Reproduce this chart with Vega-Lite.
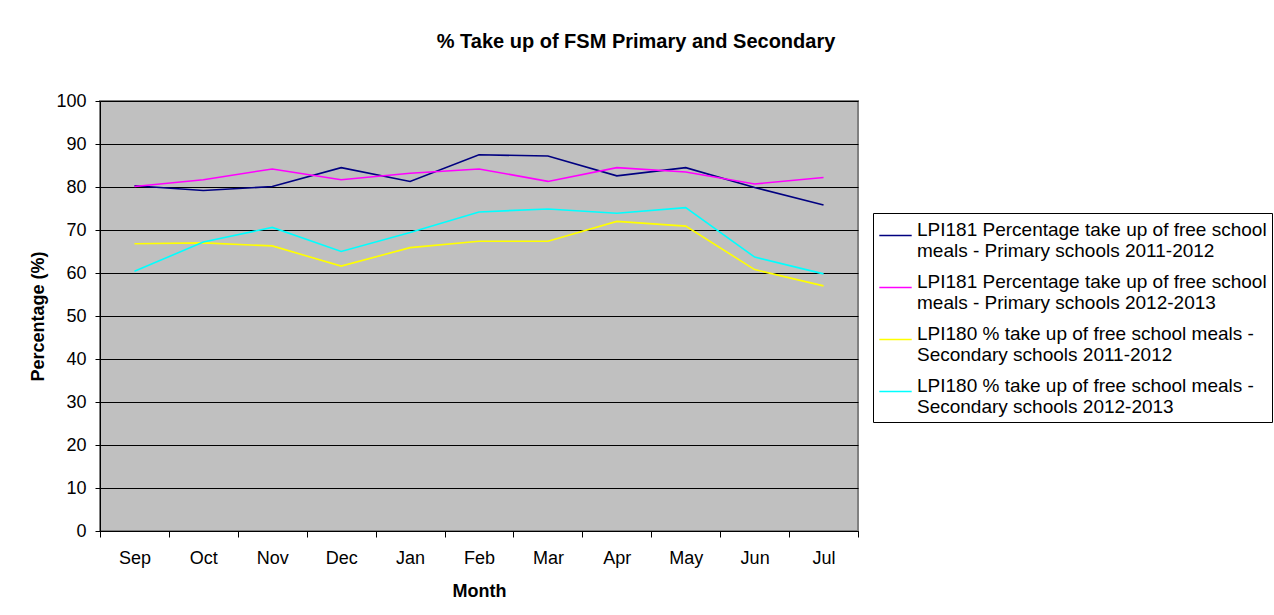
{
  "$schema": "https://vega.github.io/schema/vega-lite/v6.json",
  "autosize": {"type": "none"},
  "padding": {"left": 100, "top": 101, "right": 416, "bottom": 84},
  "width": 758,
  "height": 430,
  "background": "white",
  "title": {
    "text": "% Take up of FSM Primary and Secondary",
    "font": "Liberation Sans",
    "fontSize": 20,
    "fontWeight": "bold",
    "color": "black",
    "anchor": "middle",
    "baseline": "alphabetic",
    "offset": 24,
    "dx": 157
  },
  "config": {
    "font": "Liberation Sans",
    "view": {"fill": "#C0C0C0", "stroke": "#808080", "strokeWidth": 2},
    "axis": {
      "labelFont": "Liberation Sans",
      "titleFont": "Liberation Sans",
      "labelFontSize": 18,
      "titleFontSize": 18,
      "labelColor": "black",
      "titleColor": "black",
      "domainColor": "black",
      "tickColor": "black",
      "titleFontWeight": "bold"
    }
  },
  "data": {
    "values": [
      {"month": "Sep", "series": "LPI181 Percentage take up of free school meals - Primary schools 2011-2012", "value": 80.3},
      {"month": "Oct", "series": "LPI181 Percentage take up of free school meals - Primary schools 2011-2012", "value": 79.2},
      {"month": "Nov", "series": "LPI181 Percentage take up of free school meals - Primary schools 2011-2012", "value": 80.1},
      {"month": "Dec", "series": "LPI181 Percentage take up of free school meals - Primary schools 2011-2012", "value": 84.5},
      {"month": "Jan", "series": "LPI181 Percentage take up of free school meals - Primary schools 2011-2012", "value": 81.3},
      {"month": "Feb", "series": "LPI181 Percentage take up of free school meals - Primary schools 2011-2012", "value": 87.5},
      {"month": "Mar", "series": "LPI181 Percentage take up of free school meals - Primary schools 2011-2012", "value": 87.2},
      {"month": "Apr", "series": "LPI181 Percentage take up of free school meals - Primary schools 2011-2012", "value": 82.6},
      {"month": "May", "series": "LPI181 Percentage take up of free school meals - Primary schools 2011-2012", "value": 84.5},
      {"month": "Jun", "series": "LPI181 Percentage take up of free school meals - Primary schools 2011-2012", "value": 79.9},
      {"month": "Jul", "series": "LPI181 Percentage take up of free school meals - Primary schools 2011-2012", "value": 75.8},
      {"month": "Sep", "series": "LPI181 Percentage take up of free school meals - Primary schools 2012-2013", "value": 80.1},
      {"month": "Oct", "series": "LPI181 Percentage take up of free school meals - Primary schools 2012-2013", "value": 81.7},
      {"month": "Nov", "series": "LPI181 Percentage take up of free school meals - Primary schools 2012-2013", "value": 84.2},
      {"month": "Dec", "series": "LPI181 Percentage take up of free school meals - Primary schools 2012-2013", "value": 81.7},
      {"month": "Jan", "series": "LPI181 Percentage take up of free school meals - Primary schools 2012-2013", "value": 83.2},
      {"month": "Feb", "series": "LPI181 Percentage take up of free school meals - Primary schools 2012-2013", "value": 84.2},
      {"month": "Mar", "series": "LPI181 Percentage take up of free school meals - Primary schools 2012-2013", "value": 81.3},
      {"month": "Apr", "series": "LPI181 Percentage take up of free school meals - Primary schools 2012-2013", "value": 84.5},
      {"month": "May", "series": "LPI181 Percentage take up of free school meals - Primary schools 2012-2013", "value": 83.5},
      {"month": "Jun", "series": "LPI181 Percentage take up of free school meals - Primary schools 2012-2013", "value": 80.7},
      {"month": "Jul", "series": "LPI181 Percentage take up of free school meals - Primary schools 2012-2013", "value": 82.2},
      {"month": "Sep", "series": "LPI180 % take up of free school meals - Secondary schools 2011-2012", "value": 66.8},
      {"month": "Oct", "series": "LPI180 % take up of free school meals - Secondary schools 2011-2012", "value": 67.0},
      {"month": "Nov", "series": "LPI180 % take up of free school meals - Secondary schools 2011-2012", "value": 66.3},
      {"month": "Dec", "series": "LPI180 % take up of free school meals - Secondary schools 2011-2012", "value": 61.6},
      {"month": "Jan", "series": "LPI180 % take up of free school meals - Secondary schools 2011-2012", "value": 65.9},
      {"month": "Feb", "series": "LPI180 % take up of free school meals - Secondary schools 2011-2012", "value": 67.4},
      {"month": "Mar", "series": "LPI180 % take up of free school meals - Secondary schools 2011-2012", "value": 67.4},
      {"month": "Apr", "series": "LPI180 % take up of free school meals - Secondary schools 2011-2012", "value": 72.0},
      {"month": "May", "series": "LPI180 % take up of free school meals - Secondary schools 2011-2012", "value": 70.9},
      {"month": "Jun", "series": "LPI180 % take up of free school meals - Secondary schools 2011-2012", "value": 60.8},
      {"month": "Jul", "series": "LPI180 % take up of free school meals - Secondary schools 2011-2012", "value": 57.0},
      {"month": "Sep", "series": "LPI180 % take up of free school meals - Secondary schools 2012-2013", "value": 60.4},
      {"month": "Oct", "series": "LPI180 % take up of free school meals - Secondary schools 2012-2013", "value": 67.2},
      {"month": "Nov", "series": "LPI180 % take up of free school meals - Secondary schools 2012-2013", "value": 70.6},
      {"month": "Dec", "series": "LPI180 % take up of free school meals - Secondary schools 2012-2013", "value": 65.0},
      {"month": "Jan", "series": "LPI180 % take up of free school meals - Secondary schools 2012-2013", "value": 69.4},
      {"month": "Feb", "series": "LPI180 % take up of free school meals - Secondary schools 2012-2013", "value": 74.2},
      {"month": "Mar", "series": "LPI180 % take up of free school meals - Secondary schools 2012-2013", "value": 74.9},
      {"month": "Apr", "series": "LPI180 % take up of free school meals - Secondary schools 2012-2013", "value": 73.9},
      {"month": "May", "series": "LPI180 % take up of free school meals - Secondary schools 2012-2013", "value": 75.2},
      {"month": "Jun", "series": "LPI180 % take up of free school meals - Secondary schools 2012-2013", "value": 63.7},
      {"month": "Jul", "series": "LPI180 % take up of free school meals - Secondary schools 2012-2013", "value": 59.8}
    ]
  },
  "mark": {"type": "line", "strokeWidth": 1.6},
  "encoding": {
    "x": {
      "field": "month",
      "type": "nominal",
      "sort": ["Sep", "Oct", "Nov", "Dec", "Jan", "Feb", "Mar", "Apr", "May", "Jun", "Jul"],
      "scale": {"type": "band", "paddingInner": 0, "paddingOuter": 0},
      "bandPosition": 0.5,
      "axis": {
        "title": "Month",
        "labelAngle": 0,
        "tickBand": "extent",
        "tickSize": 6,
        "labelPadding": 12,
        "grid": false,
        "titleBaseline": "alphabetic",
        "titleY": 65
      }
    },
    "y": {
      "field": "value",
      "type": "quantitative",
      "scale": {"domain": [0, 100], "nice": false},
      "axis": {
        "title": "Percentage (%)",
        "values": [0, 10, 20, 30, 40, 50, 60, 70, 80, 90, 100],
        "grid": true,
        "gridColor": "black",
        "gridWidth": 1,
        "gridOpacity": 1,
        "tickSize": 5,
        "labelPadding": 9,
        "titleX": -62,
        "titleY": 215,
        "titleBaseline": "middle",
        "titleAlign": "center",
        "titleAngle": -90
      }
    },
    "color": {
      "field": "series",
      "type": "nominal",
      "sort": null,
      "scale": {
        "domain": [
          "LPI181 Percentage take up of free school meals - Primary schools 2011-2012",
          "LPI181 Percentage take up of free school meals - Primary schools 2012-2013",
          "LPI180 % take up of free school meals - Secondary schools 2011-2012",
          "LPI180 % take up of free school meals - Secondary schools 2012-2013"
        ],
        "range": ["#000080", "#FF00FF", "#FFFF00", "#00FFFF"]
      },
      "legend": {
        "title": null,
        "orient": "none",
        "legendX": 773,
        "legendY": 112,
        "strokeColor": "black",
        "fillColor": "white",
        "padding": 5,
        "symbolType": "stroke",
        "symbolSize": 1050,
        "symbolStrokeWidth": 1.6,
        "labelFont": "Liberation Sans",
        "labelFontSize": 19,
        "labelColor": "black",
        "labelLimit": 500,
        "labelBaseline": "alphabetic",
        "rowPadding": 9,
        "labelExpr": "test(/^LPI181/, datum.label) ? [substring(datum.label, 0, 40), substring(datum.label, 41)] : [substring(datum.label, 0, 39), substring(datum.label, 40)]"
      }
    }
  }
}
